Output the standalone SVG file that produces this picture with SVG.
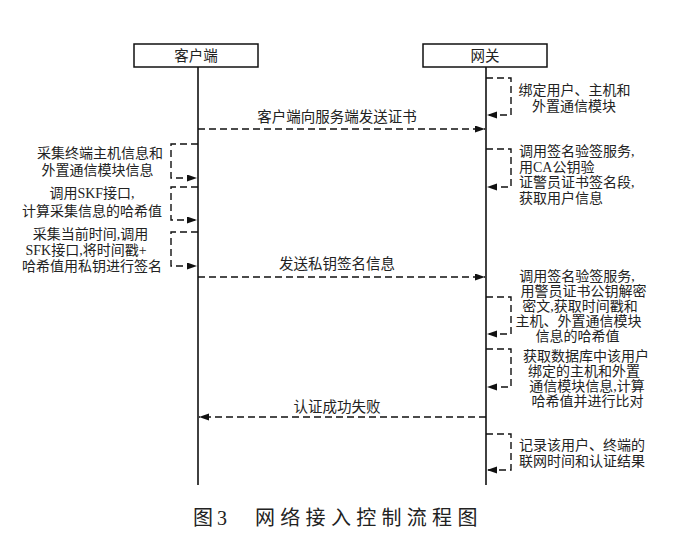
<svg xmlns="http://www.w3.org/2000/svg" width="684" height="552" viewBox="0 0 684 552">
<style>
text{font-family:"Liberation Serif","Noto Sans CJK SC",serif;font-size:14px;fill:#222}
.m{text-anchor:middle}
.box{fill:#fff;stroke:#111;stroke-width:1.5}
.life{stroke:#111;stroke-width:1.6;fill:none}
.dash{stroke:#111;stroke-width:1.4;fill:none;stroke-dasharray:7 4}
.cap{font-size:20px}
</style>
<defs>
<marker id="ah" markerUnits="userSpaceOnUse" markerWidth="10" markerHeight="8" refX="10" refY="3.5" orient="auto">
<path d="M0,0 L10,3.5 L0,7 z" fill="#111"/>
</marker>
</defs>
<rect width="684" height="552" fill="#fff"/>
<g id="client">
<rect class="box" x="134" y="44" width="124" height="23"/>
<text class="m" x="196" y="61" style="font-size:14.5px">客户端</text>
<line class="life" x1="198" y1="67" x2="198" y2="485"/>
</g>
<g id="gateway">
<rect class="box" x="423" y="44" width="124" height="23"/>
<text class="m" x="485" y="61" style="font-size:14.5px">网关</text>
<line class="life" x1="486" y1="67" x2="486" y2="485"/>
</g>
<g id="connectors">
<path class="dash" d="M486,78 H511 V115 H487" marker-end="url(#ah)"/>
<path class="dash" d="M198,129 H485" marker-end="url(#ah)"/>
<path class="dash" d="M198,144 H171 V178 H197" marker-end="url(#ah)"/>
<path class="dash" d="M486,149 H511 V187 H487" marker-end="url(#ah)"/>
<path class="dash" d="M198,187 H171 V220 H197" marker-end="url(#ah)"/>
<path class="dash" d="M198,232 H171 V266 H197" marker-end="url(#ah)"/>
<path class="dash" d="M198,277 H485" marker-end="url(#ah)"/>
<path class="dash" d="M486,297 H511 V334 H487" marker-end="url(#ah)"/>
<path class="dash" d="M486,349 H511 V387 H487" marker-end="url(#ah)"/>
<path class="dash" d="M486,417 H199" marker-end="url(#ah)"/>
<path class="dash" d="M486,434 H511 V470 H487" marker-end="url(#ah)"/>
</g>
<g id="msg1"><text class="m" x="337" y="122" style="font-size:14.5px">客户端向服务端发送证书</text></g>
<g id="msg2"><text class="m" x="337" y="269" style="font-size:14.5px">发送私钥签名信息</text></g>
<g id="msg3"><text class="m" x="337" y="412" style="font-size:14.5px">认证成功失败</text></g>
<g id="note-gw1">
<text class="m" x="574.5" y="95">绑定用户、主机和</text>
<text class="m" x="574" y="111">外置通信模块</text>
</g>
<g id="note-c1">
<text class="m" x="100" y="158">采集终端主机信息和</text>
<text class="m" x="97.5" y="175">外置通信模块信息</text>
</g>
<g id="note-gw2">
<text x="519" y="156">调用签名验签服务,</text>
<text x="519" y="171.5">用CA公钥验</text>
<text x="519" y="187">证警员证书签名段,</text>
<text x="519" y="203">获取用户信息</text>
</g>
<g id="note-c2">
<text class="m" x="92" y="198">调用SKF接口,</text>
<text class="m" x="92" y="216">计算采集信息的哈希值</text>
</g>
<g id="note-c3">
<text class="m" x="90.5" y="239">采集当前时间,调用</text>
<text class="m" x="86" y="255">SFK接口,将时间戳+</text>
<text class="m" x="92" y="271">哈希值用私钥进行签名</text>
</g>
<g id="note-gw3">
<text class="m" x="577" y="281">调用签名验签服务,</text>
<text class="m" x="583.5" y="296">用警员证书公钥解密</text>
<text class="m" x="580" y="311">密文,获取时间戳和</text>
<text class="m" x="578.5" y="326">主机、外置通信模块</text>
<text class="m" x="577.5" y="341">信息的哈希值</text>
</g>
<g id="note-gw4">
<text class="m" x="586" y="361">获取数据库中该用户</text>
<text class="m" x="584" y="376">绑定的主机和外置</text>
<text class="m" x="587" y="391">通信模块信息,计算</text>
<text class="m" x="587.5" y="406">哈希值并进行比对</text>
</g>
<g id="note-gw5">
<text x="519" y="450">记录该用户、终端的</text>
<text x="519" y="466">联网时间和认证结果</text>
</g>
<g id="caption">
<text class="cap" x="193" y="525">图</text>
<text class="cap" x="217" y="525">3</text>
<text class="cap" x="255" y="525" letter-spacing="5.3">网络接入控制流程图</text>
</g>
</svg>
